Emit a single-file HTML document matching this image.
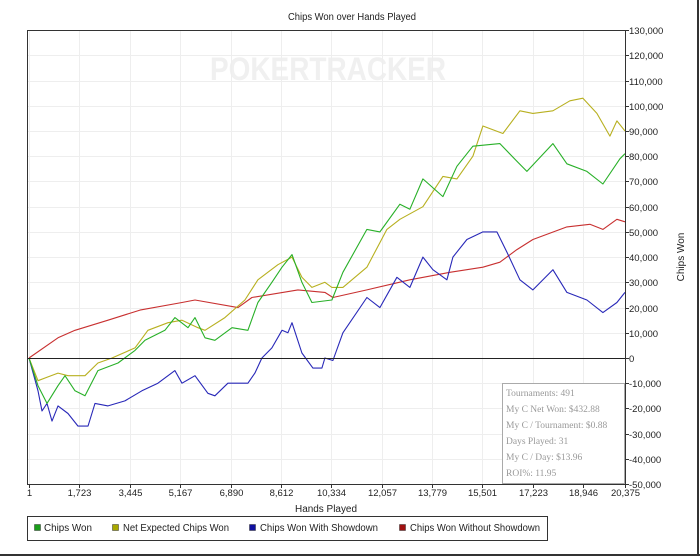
<!DOCTYPE html>
<html><head><meta charset="utf-8"><style>
html,body{margin:0;padding:0;background:#fff;}
svg{display:block;font-family:"Liberation Sans",sans-serif;}
</style></head><body>
<svg id="chart" width="700" height="556" viewBox="0 0 700 556" xmlns="http://www.w3.org/2000/svg">
<rect x="0" y="0" width="700" height="556" fill="#fff"/>
<line x1="698" y1="0" x2="698" y2="556" stroke="#333" stroke-width="2"/>
<line x1="0" y1="555" x2="700" y2="555" stroke="#333" stroke-width="2"/>
<text x="352" y="20" text-anchor="middle" font-size="10" fill="#222" textLength="128" lengthAdjust="spacingAndGlyphs">Chips Won over Hands Played</text>
<text x="328" y="80" text-anchor="middle" font-size="32" font-weight="bold" fill="#f0f0f0" textLength="236" lengthAdjust="spacingAndGlyphs">POKERTRACKER</text>
<g id="grid"></g>
<g id="series"></g>
<line id="zeroline" stroke="#222" stroke-width="1"/>
<rect x="27.5" y="30.5" width="598" height="454" fill="none" stroke="#333" stroke-width="1"/>
<g id="axes"></g>
<text x="326" y="512" text-anchor="middle" font-size="10" fill="#222" textLength="62" lengthAdjust="spacingAndGlyphs">Hands Played</text>
<text transform="translate(684,257) rotate(-90)" text-anchor="middle" font-size="10" fill="#222">Chips Won</text>
<g>
<rect x="502.5" y="383.5" width="122" height="100" fill="#fff" stroke="#aaa"/>
<g font-family="'Liberation Serif',serif" font-size="9.5" fill="#999">
<text x="506" y="396">Tournaments: 491</text>
<text x="506" y="412">My C Net Won: $432.88</text>
<text x="506" y="428">My C / Tournament: $0.88</text>
<text x="506" y="444">Days Played: 31</text>
<text x="506" y="460">My C / Day: $13.96</text>
<text x="506" y="476">ROI%: 11.95</text>
</g></g>
<g>
<rect x="27.5" y="516.5" width="520" height="24" fill="#fff" stroke="#333"/>
<g font-size="10" fill="#222">
<g><rect x="34.5" y="524.5" width="6" height="6" fill="#1a9e1a" stroke="#333" stroke-width="0.5"/><text x="44" y="531" textLength="48" lengthAdjust="spacingAndGlyphs">Chips Won</text></g>
<g><rect x="112.5" y="524.5" width="6" height="6" fill="#a8a800" stroke="#333" stroke-width="0.5"/><text x="123" y="531" textLength="106" lengthAdjust="spacingAndGlyphs">Net Expected Chips Won</text></g>
<g><rect x="249.5" y="524.5" width="6" height="6" fill="#1010a0" stroke="#333" stroke-width="0.5"/><text x="260" y="531" textLength="118" lengthAdjust="spacingAndGlyphs">Chips Won With Showdown</text></g>
<g><rect x="399.5" y="524.5" width="6" height="6" fill="#a01010" stroke="#333" stroke-width="0.5"/><text x="410" y="531" textLength="130" lengthAdjust="spacingAndGlyphs">Chips Won Without Showdown</text></g>
</g></g>
</svg>
<script>
const xTicks = [1,1723,3445,5167,6890,8612,10334,12057,13779,15501,17223,18946,20375];
const yTicks = [-50,-40,-30,-20,-10,0,10,20,30,40,50,60,70,80,90,100,110,120,130];
const redHands = [1,991,1572,2700,3794,5230,5674,7144,7622,9194,10117,10391,11553,13022,14390,15518,16099,16680,17227,18389,19175,19619,20098,20375];
const redVals = [0,8,11,15,19,22,23,20,24,27,26,24,27,31,34,36,38,43,47,52,53,51,55,54];
const greenHands = [1,308,615,991,1230,1572,1914,2358,3042,3623,3965,4648,4990,5435,5674,6016,6357,6939,7485,7827,8306,8648,8990,9331,9673,10357,10733,11553,11997,12681,13022,13467,14150,14629,15176,16099,16680,17022,17910,18389,19072,19619,20200,20375];
const greenVals = [0,-11,-18,-11,-7,-13,-15,-5,-2,3,7,11,16,12,16,8,7,12,11,22,30,36,41,30,22,23,34,51,50,61,59,71,64,76,84,85,78,74,85,77,74,69,79,81];
const yellowHands = [1,308,650,991,1333,1914,2358,2837,3623,4067,4751,5230,5777,6016,6699,7383,7827,8511,8990,9331,9673,10117,10357,10733,11553,12236,12681,13467,14150,14629,15176,15518,16201,16782,17227,17910,18491,18936,19414,19858,20098,20375];
const yellowVals = [0,-9,-7.5,-6,-7,-7,-2,0,4,11,14,15,12,11,16,23,31,37,40,32,28,30,28,28,36,51,55,60,72,71,80,92,89,98,97,98,102,103,97,88,94,90];
const blueHands = [1,308,444,615,786,991,1333,1675,2017,2256,2700,3281,3862,4409,4990,5230,5674,6118,6357,6802,7485,7725,7964,8306,8648,8853,8990,9331,9707,10015,10117,10391,10733,11553,11997,12578,13022,13467,13809,14287,14492,14971,15518,15996,16338,16782,17227,17910,18389,19072,19619,20098,20375];
const blueVals = [0,-13,-21,-18,-25,-19,-22,-27,-27,-18,-19,-17,-13,-10,-5,-10,-7,-14,-15,-10,-10,-6,0,4,11,10,14,2,-4,-4,0,-1,10,24,20,32,28,40,35,31,40,47,50,50,42,31,27,35,26,23,18,22,26];

const NS="http://www.w3.org/2000/svg";
const X0=29,X1=625,Y0=358,PX=2.522;
function xs(h){return X0+(h-1)/(20375-1)*(X1-X0);}
function ys(v){return Y0-v*PX;}
function mk(tag,attrs,parent){const e=document.createElementNS(NS,tag);for(const k in attrs)e.setAttribute(k,attrs[k]);parent.appendChild(e);return e;}
const grid=document.getElementById('grid'),axes=document.getElementById('axes'),series=document.getElementById('series');
xTicks.forEach(t=>{const x=Math.round(xs(t))+0.5;
 const g=mk('line',{x1:x,y1:31,x2:x,y2:484,stroke:'#eeeeee'},grid);
 
 
 const tk=mk('line',{x1:x,y1:484,x2:x,y2:488,stroke:'#333'},axes);
 
 
 const lb=mk('text',{x:x,y:496,'text-anchor':'middle','font-size':'9.5','fill':'#222'},axes);
 lb.textContent=t.toLocaleString('en-US');
 
 
});
yTicks.forEach(t=>{const y=Math.round(ys(t))+0.5;
 const g=mk('line',{x1:28,y1:y,x2:625,y2:y,stroke:'#eeeeee'},grid);
 
 
 const tk=mk('line',{x1:625,y1:y,x2:629,y2:y,stroke:'#333'},axes);
 
 
 const lb=mk('text',{x:629,y:y+3.5,'font-size':'9.5','fill':'#222'},axes);
 lb.textContent=(t*1000).toLocaleString('en-US');
 
 
});
const zl=document.getElementById('zeroline');
zl.setAttribute('x1',28);zl.setAttribute('x2',625);zl.setAttribute('y1',Math.round(ys(0))+0.5);zl.setAttribute('y2',Math.round(ys(0))+0.5);
function draw(h,v,color,name){
 const pts=h.map((hh,i)=>xs(hh).toFixed(1)+','+ys(v[i]).toFixed(1)).join(' ');
 const p=mk('polyline',{points:pts,fill:'none',stroke:color,'stroke-width':'1.1','stroke-linejoin':'round'},series);
 
 
}
draw(redHands,redVals,'#c83030','line-without-showdown');
draw(blueHands,blueVals,'#2828b8','line-with-showdown');
draw(yellowHands,yellowVals,'#b8b020','line-net-expected');
draw(greenHands,greenVals,'#28b028','line-chips-won');
</script>
</body></html>
